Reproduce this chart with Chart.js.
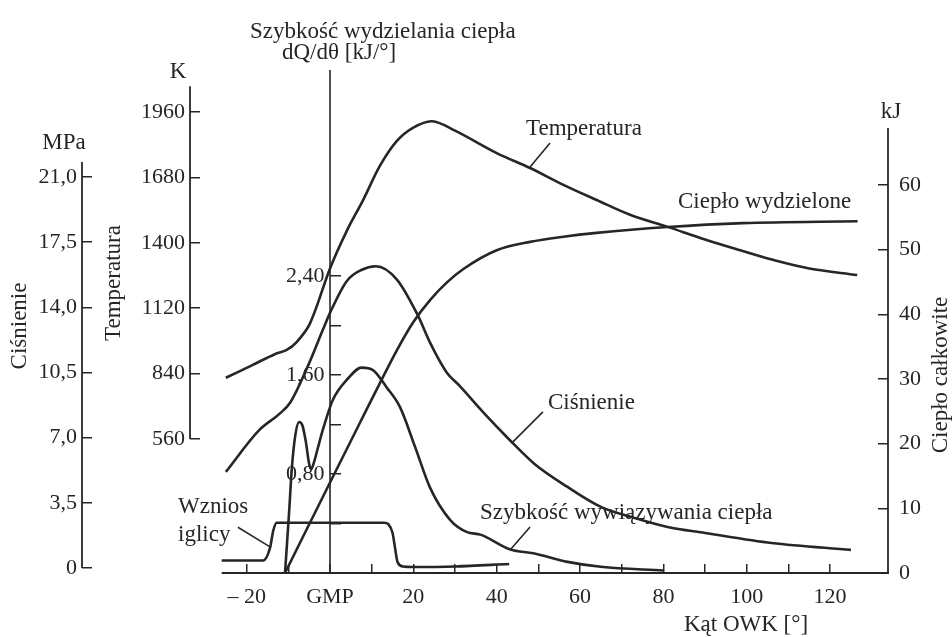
<!DOCTYPE html>
<html lang="pl">
<head>
<meta charset="utf-8">
<title>Przebieg spalania w silniku</title>
<script src="https://cdn.jsdelivr.net/npm/chart.js@4.4.1/dist/chart.umd.min.js"></script>
<style>
  html, body { margin: 0; padding: 0; background: #fff; }
  canvas { display: block; }
</style>
</head>
<body>
<canvas id="wykresSpalania" width="952" height="637"></canvas>
<script>
// Temperatura [K] w funkcji kąta OWK [°]
var katTemp = [-25, -19, -13, -10.5, -8, -4.8, 0, 4, 8, 12, 16, 20, 24.5, 30, 40, 48, 56, 64, 72, 81, 90, 98, 106, 115, 126.5];
var temperatura = [822, 873, 925, 940, 975, 1055, 1290, 1450, 1585, 1730, 1835, 1893, 1920, 1880, 1784, 1720, 1648, 1583, 1520, 1468, 1414, 1370, 1328, 1290, 1262];

// Ciśnienie [MPa]
var katCisn = [-25, -17, -12, -9.5, -5, -1.7, 0, 4, 7.5, 11, 16, 21, 24, 28, 31, 37, 43, 49, 57, 65, 73, 81, 90, 106, 125];
var cisnienie = [5.16, 7.4, 8.3, 8.9, 11.0, 12.8, 13.7, 15.4, 16.0, 16.2, 15.5, 13.6, 12.1, 10.5, 9.8, 8.3, 6.9, 5.6, 4.35, 3.28, 2.69, 2.2, 1.88, 1.34, 0.97];

// Szybkość wydzielania ciepła dQ/dθ [kJ/°]
var katDq = [-10.8, -9.8, -9.2, -8.3, -7.4, -6.6, -5.8, -5.0, -4.5, -3.8, -3.0, -1.7, 0.7, 4.0, 7.6, 10.3, 13.6, 16.8, 20.4, 24.0, 28.8, 32.9, 36.1, 43.3, 48.8, 57, 65, 80];
var dqdt = [0, 0.5, 0.83, 1.12, 1.22, 1.19, 1.06, 0.88, 0.84, 0.90, 1.0, 1.16, 1.40, 1.56, 1.66, 1.64, 1.50, 1.34, 1.02, 0.69, 0.43, 0.33, 0.31, 0.19, 0.16, 0.09, 0.05, 0.02];

// Ciepło wydzielone [kJ]
var katCieplo = [-10.8, 0, 7, 12, 16, 20, 24, 28, 32, 40, 48, 56, 64, 81, 99, 126.6];
var cieplo = [0, 14.0, 23.0, 29.4, 34.4, 38.8, 42.2, 44.9, 47.0, 49.9, 51.2, 52.0, 52.6, 53.5, 54.1, 54.4];

// Wznios iglicy (skala względna, bez osi)
var katIglica = [-26, -16, -14.4, -13.6, -12.8, 13, 14, 15, 15.6, 16.2, 17.5, 20, 30, 43];
var wzniosIglicy = [0.25, 0.25, 0.5, 0.85, 1.0, 1.0, 0.97, 0.8, 0.5, 0.22, 0.13, 0.12, 0.13, 0.18];

// Podziałki osi
var katTicks = [-20, -10, 0, 10, 20, 30, 40, 50, 60, 70, 80, 90, 100, 110, 120];
var katLabels = ['\u2013 20', '', 'GMP', '', '20', '', '40', '', '60', '', '80', '', '100', '', '120'];
var cisnTicks = [0, 3.5, 7, 10.5, 14, 17.5, 21];
var cisnLabels = ['0', '3,5', '7,0', '10,5', '14,0', '17,5', '21,0'];
var tempTicks = [560, 840, 1120, 1400, 1680, 1960];
var dqTicks = [0.4, 0.8, 1.2, 1.6, 2.0, 2.4];
var dqLabels = ['', '0,80 ', '', '1,60 ', '', '2,40 '];
var cieploTicks = [0, 10, 20, 30, 40, 50, 60];

var kolor = '#262626';
var czcionka = 'Liberation Serif, Times New Roman, serif';

function punkty(xs, ys) {
    return xs.map(function (x, i) { return { x: x, y: ys[i] }; });
}

function linia(xs, ys, osY, gladka) {
    var ds = {
        data: punkty(xs, ys),
        yAxisID: osY,
        borderColor: kolor,
        borderWidth: 2.6,
        pointRadius: 0,
        fill: false
    };
    if (gladka) {
        ds.tension = 0.35;
    } else {
        ds.cubicInterpolationMode = 'monotone';
    }
    return ds;
}

function stalePodzialki(wartosci) {
    return function (skala) {
        skala.ticks = wartosci.map(function (v) { return { value: v }; });
    };
}

// Linie osi i opisy rysowane na płótnie
var opisy = {
    id: 'opisy',
    afterDraw: function (chart) {
        var c = chart.ctx;
        var s = chart.scales;
        var dol = s.x.top;

        function odcinek(x1, y1, x2, y2, w) {
            c.beginPath();
            c.lineWidth = w;
            c.moveTo(x1, y1);
            c.lineTo(x2, y2);
            c.stroke();
        }
        function tekst(t, x, y, align) {
            c.textAlign = align || 'left';
            c.fillText(t, x, y);
        }
        function pionowy(t, x, y) {
            c.save();
            c.translate(x, y);
            c.rotate(-Math.PI / 2);
            c.textAlign = 'center';
            c.fillText(t, 0, 0);
            c.restore();
        }

        c.save();
        c.strokeStyle = kolor;
        c.fillStyle = kolor;
        c.lineCap = 'butt';

        // osie
        odcinek(s.x.getPixelForValue(-26), dol, s.yQ.left + 1, dol, 1.8);
        odcinek(s.yP.right, s.yP.getPixelForValue(0), s.yP.right, s.yP.getPixelForValue(21.8), 1.8);
        odcinek(s.yT.right, s.yT.getPixelForValue(560), s.yT.right, s.yT.getPixelForValue(2070), 1.8);
        odcinek(s.x.getPixelForValue(0), dol, s.x.getPixelForValue(0), chart.chartArea.top, 1.6);
        odcinek(s.yQ.left, dol, s.yQ.left, s.yQ.getPixelForValue(68.8), 1.8);

        // odnośniki do krzywych
        odcinek(s.x.getPixelForValue(48.0), s.yT.getPixelForValue(1724), s.x.getPixelForValue(52.8), s.yT.getPixelForValue(1827), 1.6);
        odcinek(s.x.getPixelForValue(43.9), s.yP.getPixelForValue(6.77), s.x.getPixelForValue(51.1), s.yP.getPixelForValue(8.38), 1.6);
        odcinek(s.x.getPixelForValue(43.2), s.yR.getPixelForValue(0.186), s.x.getPixelForValue(48.0), s.yR.getPixelForValue(0.372), 1.6);
        odcinek(s.x.getPixelForValue(-22.1), s.yL.getPixelForValue(0.91), s.x.getPixelForValue(-14.4), s.yL.getPixelForValue(0.52), 1.6);

        c.font = '23px ' + czcionka;
        c.textBaseline = 'middle';
        tekst('Temperatura', 526, 129);
        tekst('Ciepło wydzielone', 678, 202);
        tekst('Ciśnienie', 548, 403);
        tekst('Szybkość wywiązywania ciepła', 480, 513);
        tekst('Wznios', 178, 507);
        tekst('iglicy', 178, 535);
        tekst('Szybkość wydzielania ciepła', 250, 32);
        tekst('dQ/dθ [kJ/°]', 282, 53);
        tekst('K', 178, 72, 'center');
        tekst('MPa', 64, 143, 'center');
        tekst('kJ', 891, 112, 'center');
        tekst('Kąt OWK [°]', 746, 625, 'center');
        pionowy('Ciśnienie', 20, 326);
        pionowy('Temperatura', 114, 283);
        pionowy('Ciepło całkowite', 941, 375);
        c.restore();
    }
};

var podzialkaFont = { family: czcionka, size: 22 };

var ctxWykres = document.getElementById('wykresSpalania').getContext('2d');
var wykresSpalania = new Chart(ctxWykres, {
    type: 'line',
    data: {
        datasets: [
            linia(katTemp, temperatura, 'yT', true),
            linia(katCisn, cisnienie, 'yP'),
            linia(katDq, dqdt, 'yR'),
            linia(katCieplo, cieplo, 'yQ'),
            linia(katIglica, wzniosIglicy, 'yL')
        ]
    },
    options: {
        responsive: false,
        animation: false,
        devicePixelRatio: 1,
        layout: { padding: { top: 70, left: 0, right: 0, bottom: 0 } },
        plugins: { legend: { display: false }, tooltip: { enabled: false } },
        scales: {
            x: {
                type: 'linear',
                position: 'bottom',
                min: -33.6,
                max: 133.9,
                afterBuildTicks: stalePodzialki(katTicks),
                afterFit: function (s) { s.height = 64; },
                ticks: {
                    autoSkip: false, maxRotation: 0, padding: 20,
                    color: kolor, font: podzialkaFont,
                    callback: function (v, i) { return katLabels[i]; }
                },
                grid: { drawOnChartArea: false, tickLength: -9, color: kolor, lineWidth: 1.5 },
                border: { display: false }
            },
            yP: {
                type: 'linear',
                position: 'left',
                weight: 2,
                min: -0.27,
                max: 26.74,
                afterBuildTicks: stalePodzialki(cisnTicks),
                afterFit: function (s) { s.width = 82; },
                ticks: {
                    padding: 15, color: kolor, font: podzialkaFont,
                    callback: function (v, i) { return cisnLabels[i]; }
                },
                grid: { drawOnChartArea: false, tickLength: -10, color: kolor, lineWidth: 1.5 },
                border: { display: false }
            },
            yT: {
                type: 'linear',
                position: 'left',
                weight: 1,
                min: -13.7,
                max: 2139.6,
                afterBuildTicks: stalePodzialki(tempTicks),
                afterFit: function (s) { s.width = 108; },
                ticks: {
                    padding: 15, color: kolor, font: podzialkaFont,
                    callback: function (v) { return String(v); }
                },
                grid: { drawOnChartArea: false, tickLength: -10, color: kolor, lineWidth: 1.5 },
                border: { display: false }
            },
            yQ: {
                type: 'linear',
                position: 'right',
                min: 0,
                max: 77.78,
                afterBuildTicks: stalePodzialki(cieploTicks),
                afterFit: function (s) { s.width = 64; },
                ticks: {
                    padding: 21, color: kolor, font: podzialkaFont,
                    callback: function (v) { return String(v); }
                },
                grid: { drawOnChartArea: false, tickLength: -10, color: kolor, lineWidth: 1.5 },
                border: { display: false }
            },
            yR: {
                type: 'linear',
                position: { x: 0 },
                min: 0,
                max: 4.065,
                afterBuildTicks: stalePodzialki(dqTicks),
                ticks: {
                    color: kolor, font: podzialkaFont,
                    callback: function (v, i) { return dqLabels[i]; }
                },
                grid: { drawOnChartArea: false, tickLength: -11, color: kolor, lineWidth: 1.5 },
                border: { display: false }
            },
            yL: {
                type: 'linear',
                display: false,
                min: 0,
                max: 10
            }
        }
    },
    plugins: [opisy]
});
</script>
</body>
</html>
